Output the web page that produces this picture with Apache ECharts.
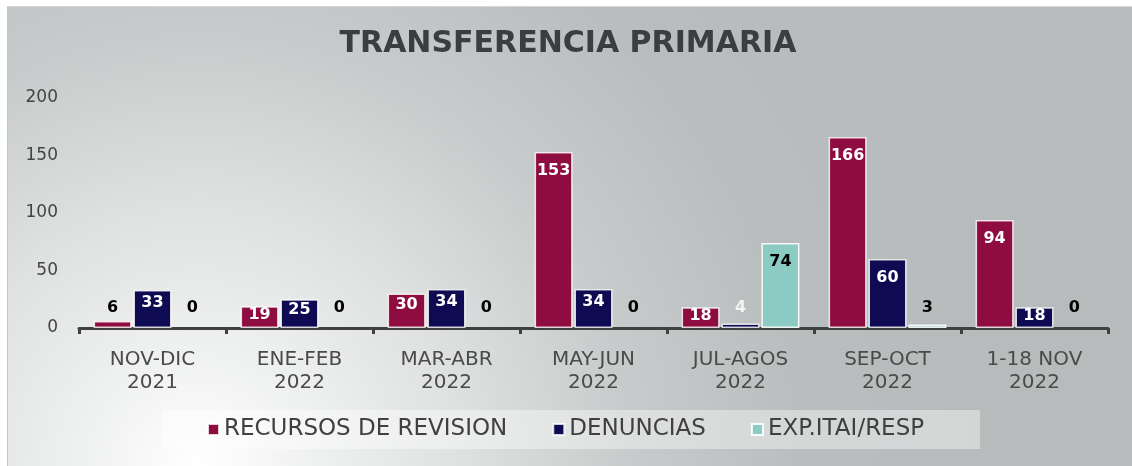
<!DOCTYPE html>
<html><head><meta charset="utf-8">
<script src="https://cdn.jsdelivr.net/npm/echarts@6/dist/echarts.min.js"></script>
<style>
html,body{margin:0;padding:0;background:#fff;overflow:hidden;}
#bg{position:absolute;left:7px;top:6px;width:1125px;height:460px;border-top:1px solid #d6d6d6;border-left:1px solid #c4c4c4;
background:radial-gradient(circle 800px at 190px 460px,#ffffff 0%,#f0f1f1 14%,#dfe1e1 33%,#c8cbcb 54%,#b9bdbd 76%,#b7bbbb 100%);}
#chart{position:absolute;left:0;top:0;width:1132px;height:466px;}
</style></head><body><div id="bg"></div><div id="chart"></div>
<script>
const categories = ['NOV-DIC\n2021','ENE-FEB\n2022','MAR-ABR\n2022','MAY-JUN\n2022','JUL-AGOS\n2022','SEP-OCT\n2022','1-18 NOV\n2022'];
const seriesNames = ['RECURSOS DE REVISION','DENUNCIAS','EXP.ITAI/RESP'];
const recursos = [6,19,30,153,18,166,94];
const denuncias = [33,25,34,34,4,60,18];
const expItai = [0,0,0,0,74,3,0];
const yMin = 0, yMax = 200, yInterval = 50;

const gridTop = 98, gridBottom = 138;
const pxPerUnit = (466 - gridTop - gridBottom) / (yMax - yMin);

function items(values, insideColor, outsideColor) {
  return values.map(v => {
    const h = v * pxPerUnit;
    const item = { value: v };
    if (h < 19) {
      item.label = { position: 'top', color: outsideColor, distance: Math.max(3, 12.5 - h) };
    } else {
      item.label = { position: 'insideTop', color: insideColor, distance: v >= 50 ? 11 : Math.max(0, (h - 20) / 4) };
    }
    if (v === 0) item.itemStyle = { borderWidth: 0 };
    return item;
  });
}

const font = 'DejaVu Sans';
const labelBase = { show: true, fontFamily: font, fontWeight: 'bold', fontSize: 16 };
const colors = ['#8e0c3f', '#0e0b53', '#8ccac4'];

const chart = echarts.init(document.getElementById('chart'), null, { renderer: 'canvas' });
chart.setOption({
  backgroundColor: 'transparent',
  animation: false,
  color: colors,
  title: {
    text: 'TRANSFERENCIA PRIMARIA',
    left: 563, textAlign: 'center', top: 24,
    textStyle: { fontFamily: font, fontWeight: 'bold', fontSize: 30, color: '#3a3e40' }
  },
  legend: {
    left: 162, top: 410,
    padding: [8, 56, 8, 45],
    backgroundColor: 'rgba(255,255,255,0.4)',
    icon: 'rect', itemWidth: 11, itemHeight: 11, itemGap: 45,
    textStyle: { fontFamily: font, fontSize: 23, color: '#404040' },
    data: seriesNames
  },
  grid: { left: 79, right: 24, top: gridTop, bottom: gridBottom },
  xAxis: {
    type: 'category', data: categories,
    axisLine: { lineStyle: { color: '#404040', width: 3 } },
    axisTick: { show: true, length: 6, lineStyle: { color: '#404040', width: 3 } },
    axisLabel: { fontFamily: font, fontSize: 20, color: '#4a4a4a', lineHeight: 23, margin: 20 }
  },
  yAxis: {
    type: 'value', min: yMin, max: yMax, interval: yInterval,
    axisLine: { show: false }, axisTick: { show: false }, splitLine: { show: false },
    axisLabel: { fontFamily: font, fontSize: 17, color: '#444', margin: 21 }
  },
  series: [
    { name: seriesNames[0], type: 'bar', barWidth: 38, barGap: '5%',
      itemStyle: { borderColor: 'rgba(255,255,255,0.8)', borderWidth: 1.5 },
      label: labelBase, data: items(recursos, '#ffffff', '#000000') },
    { name: seriesNames[1], type: 'bar', barWidth: 38, barGap: '5%',
      itemStyle: { borderColor: 'rgba(255,255,255,0.8)', borderWidth: 1.5 },
      label: labelBase, data: items(denuncias, '#ffffff', '#f4f4f4') },
    { name: seriesNames[2], type: 'bar', barWidth: 38, barGap: '5%',
      itemStyle: { borderColor: 'rgba(255,255,255,0.9)', borderWidth: 1.5 },
      label: labelBase, data: items(expItai, '#000000', '#000000') }
  ]
});
</script></body></html>
